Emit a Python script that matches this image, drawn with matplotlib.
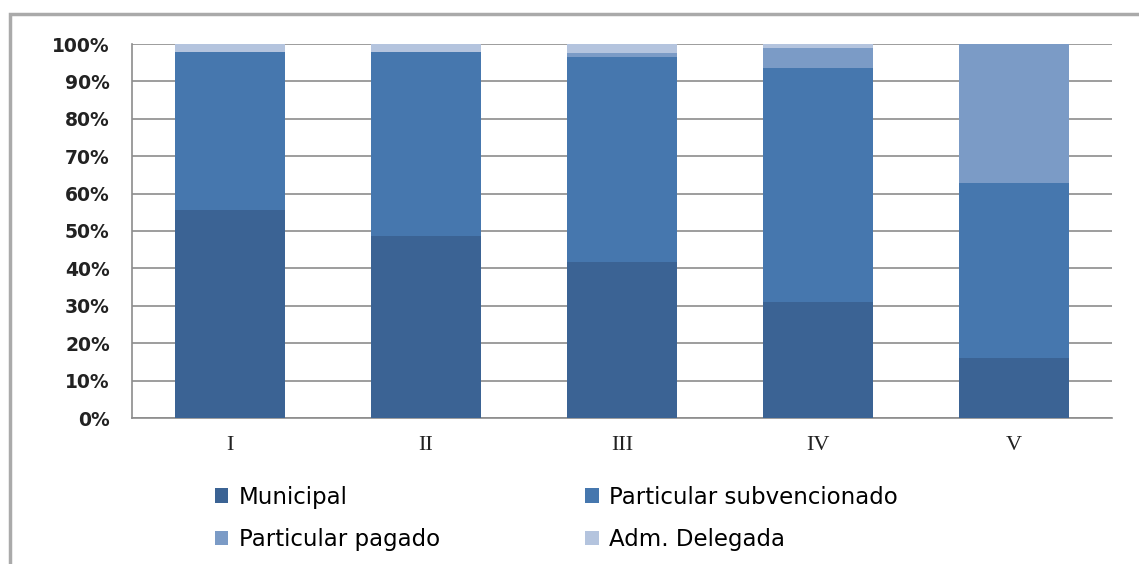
import matplotlib
matplotlib.use("Agg")
import matplotlib.pyplot as plt
from matplotlib.patches import Rectangle
import numpy as np

categories = ["I", "II", "III", "IV", "V"]
municipal = [55.6, 48.7, 41.7, 31.0, 16.0]
subvencionado = [42.3, 49.2, 54.8, 62.6, 46.8]
pagado = [0.0, 0.0, 1.0, 5.3, 37.2]
delegada = [2.1, 2.1, 2.5, 1.1, 0.0]
series_names = ["Municipal", "Particular subvencionado", "Particular pagado", "Adm. Delegada"]
colors = ["#3B6394", "#4677AE", "#7B9BC6", "#B4C4DE"]
yticks = [0, 10, 20, 30, 40, 50, 60, 70, 80, 90, 100]

fig = plt.figure(figsize=(11.39, 5.64), dpi=100)
W, H = 1139, 564
ax = fig.add_axes([132 / W, 1 - 418 / H, (1112 - 132) / W, (418 - 44) / H])

x = np.arange(len(categories))
bottom = np.zeros(len(categories))
handles = []
for vals, name, c in zip([municipal, subvencionado, pagado, delegada], series_names, colors):
    b = ax.bar(x, vals, 0.56, bottom=bottom, color=c, edgecolor="none", label=name, zorder=3)
    handles.append(b)
    bottom += np.array(vals)

ax.set_xlim(-0.5, len(categories) - 0.5)
ax.set_ylim(0, 100)
ax.set_yticks(yticks)
ax.set_yticklabels([f"{v}%" for v in yticks], fontsize=13.5, fontweight="bold", color="#222222")
ax.set_xticks(x)
ax.set_xticklabels(categories, fontfamily="Liberation Serif", fontsize=16, color="#222222")
ax.tick_params(axis="y", length=0, pad=16)
ax.tick_params(axis="x", length=0, pad=13)
ax.yaxis.grid(True, color="#8c8c8c", linewidth=1.2, zorder=0)
for s in ["top", "right"]:
    ax.spines[s].set_visible(False)
ax.spines["left"].set_color("#8c8c8c")
ax.spines["bottom"].set_color("#8c8c8c")
ax.spines["left"].set_linewidth(1.2)
ax.spines["bottom"].set_linewidth(1.2)

order = [0, 2, 1, 3]
leg = fig.legend([handles[i] for i in order], [series_names[i] for i in order],
                 ncol=2, loc="upper left", bbox_to_anchor=(194 / W, 1 - 465 / H),
                 frameon=False, fontsize=16.5, handlelength=0.6, handleheight=0.6,
                 handletextpad=0.45, columnspacing=6.35, labelspacing=0.85)

# outer frame
fig.patches.append(Rectangle((10 / W, -0.1), 1.2, 1 - 14 / H + 0.1, transform=fig.transFigure,
                             fill=False, edgecolor="#aaaaaa", linewidth=2.5))

fig.savefig("out.png", dpi=100)
